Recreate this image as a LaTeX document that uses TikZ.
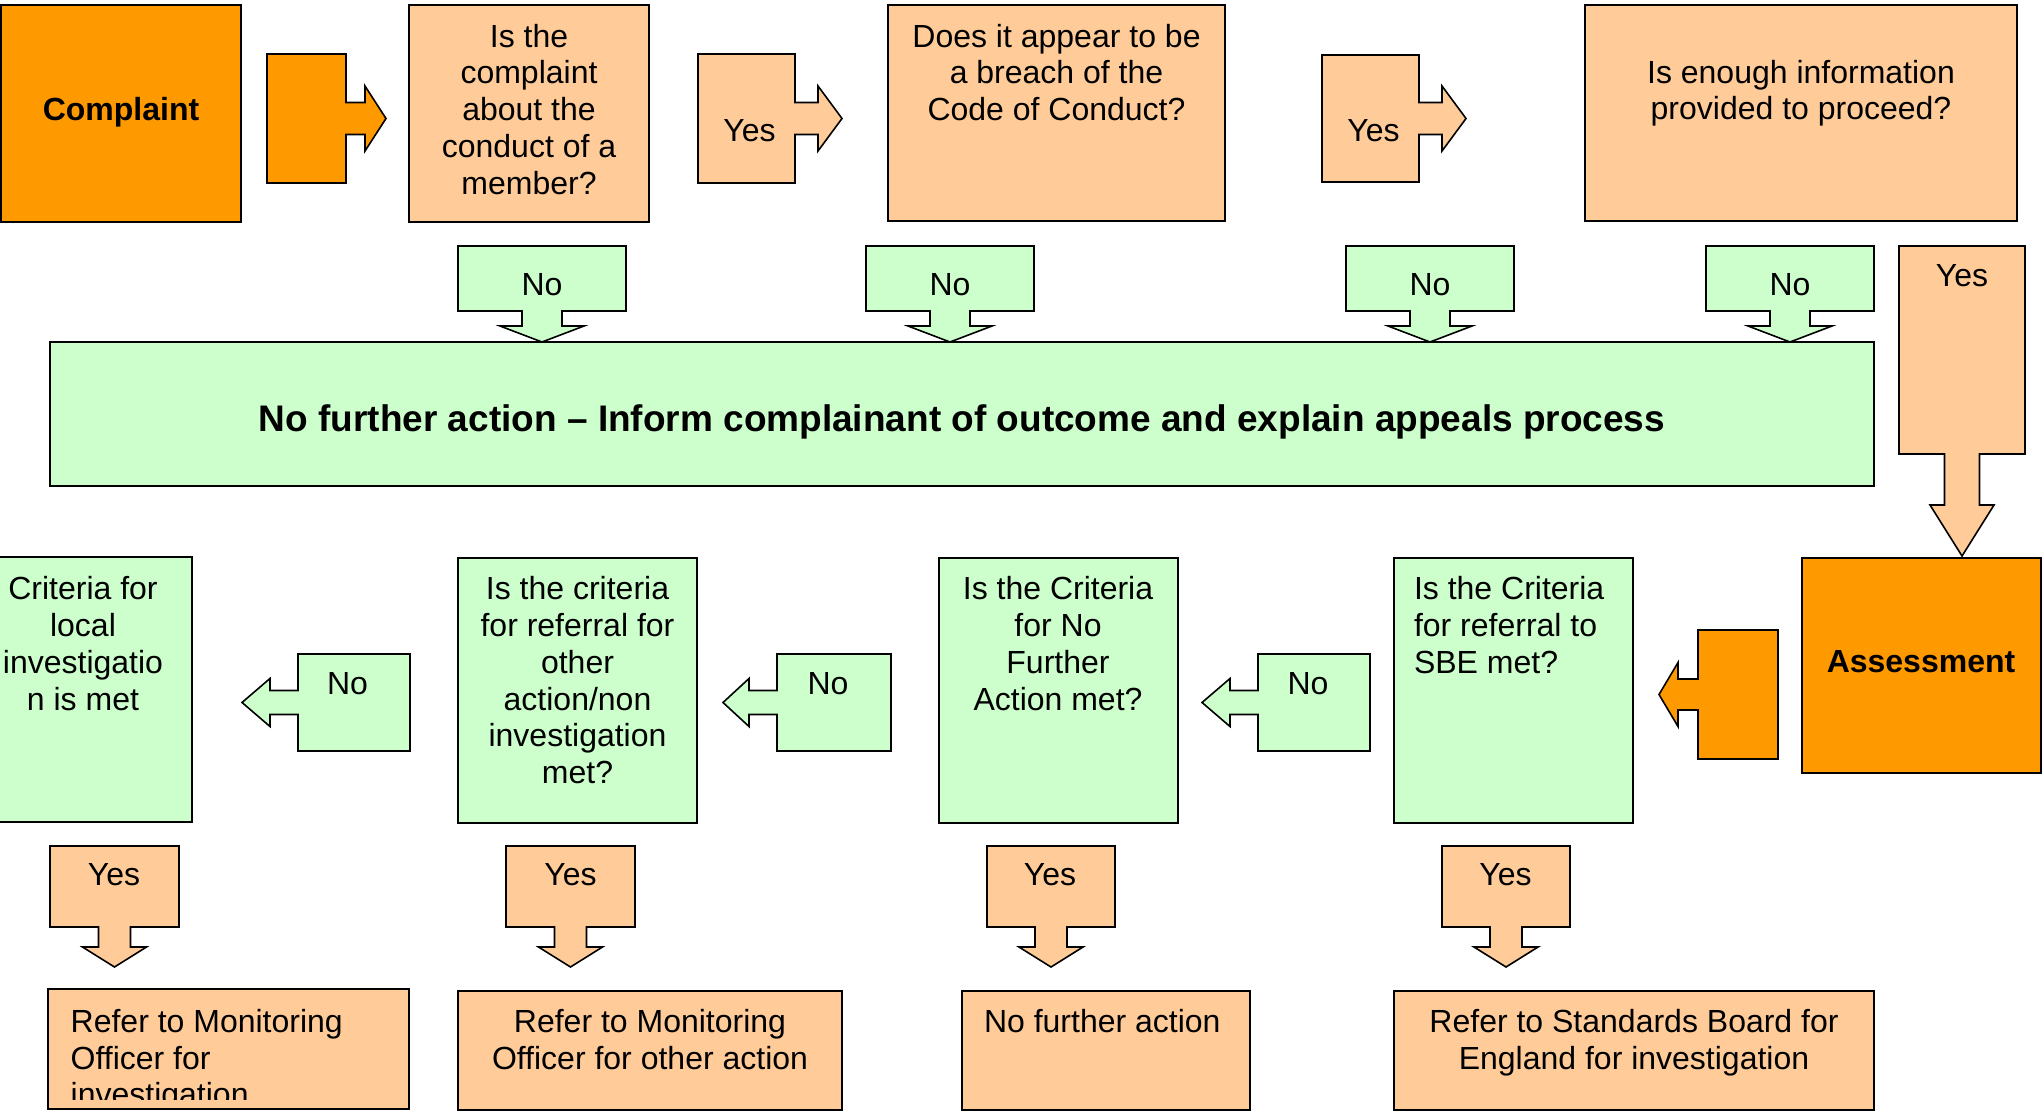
\documentclass[tikz,border=0pt]{standalone}
\usepackage{fontspec}
\setmainfont{Liberation Sans}
\definecolor{dkorange}{HTML}{FF9900}
\definecolor{ltorange}{HTML}{FFCC99}
\definecolor{ltgreen}{HTML}{CCFFCC}
% box: name, style, x1, y1, x2, y2
\newcommand\mkbox[6]{\node[#2, minimum width={(#5)-(#3)}, minimum height={(#6)-(#4)}, anchor=north west, inner sep=0pt, outer sep=0pt] (#1) at (#3,#4) {};}
% horizontal callout arrow: style, x shaft side, x far side, y1, y2, x head base, x tip, shaft half, head half
\newcommand\hcall[9]{\draw[#1] (#3,#4) -- (#2,#4) -- (#2,{(#4+#5)/2-#8}) -- (#6,{(#4+#5)/2-#8}) -- (#6,{(#4+#5)/2-#9}) -- (#7,{(#4+#5)/2}) -- (#6,{(#4+#5)/2+#9}) -- (#6,{(#4+#5)/2+#8}) -- (#2,{(#4+#5)/2+#8}) -- (#2,#5) -- (#3,#5) -- cycle;}
% downward callout arrow: style, x1, x2, y1, y2, y head base, y tip, shaft half, head half
\newcommand\dcall[9]{\draw[#1] (#2,#4) -- (#3,#4) -- (#3,#5) -- ({(#2+#3)/2+#8},#5) -- ({(#2+#3)/2+#8},#6) -- ({(#2+#3)/2+#9},#6) -- ({(#2+#3)/2},#7) -- ({(#2+#3)/2-#9},#6) -- ({(#2+#3)/2-#8},#6) -- ({(#2+#3)/2-#8},#5) -- (#2,#5) -- cycle;}
\begin{document}
\begin{tikzpicture}[x=1pt,y=-1pt,
  dko/.style={draw=black, line width=1.6pt, fill=dkorange, line join=miter},
  lto/.style={draw=black, line width=1.6pt, fill=ltorange, line join=miter},
  ltg/.style={draw=black, line width=1.6pt, fill=ltgreen, line join=miter},
  txt/.style={font=\fontsize{32}{36.8}\selectfont, inner sep=0pt, outer sep=0pt, align=center, anchor=north},
  ltxt/.style={txt, align=left, anchor=north west},
  btxt/.style={txt, font=\fontsize{32}{36.8}\selectfont\bfseries},
  bigtxt/.style={txt, font=\fontsize{37}{42}\selectfont\bfseries}]
\useasboundingbox (0,0) rectangle (2044,1112);

% ---- boxes ----
\mkbox{complaint}{dko}{1}{5}{241}{222}
\mkbox{q1}{lto}{409}{5}{649}{222}
\mkbox{q2}{lto}{888}{5}{1225}{221}
\mkbox{q3}{lto}{1585}{5}{2017}{221}
\mkbox{nfa}{ltg}{50}{342}{1874}{486}
\mkbox{assess}{dko}{1802}{558}{2041}{773}
\mkbox{sbe}{ltg}{1394}{558}{1633}{823}
\mkbox{nfaq}{ltg}{939}{558}{1178}{823}
\mkbox{other}{ltg}{458}{558}{697}{823}
\mkbox{local}{ltg}{-22}{557}{192}{822}
\mkbox{r1}{lto}{48}{989}{409}{1109}
\mkbox{r2}{lto}{458}{991}{842}{1110}
\mkbox{r3}{lto}{962}{991}{1250}{1110}
\mkbox{r4}{lto}{1394}{991}{1874}{1110}

% ---- callout arrows ----
\hcall{dko}{346}{267}{54}{183}{365}{386}{16}{32.5}
\hcall{lto}{795}{698}{54}{183}{818}{842}{16}{32.5}
\hcall{lto}{1419}{1322}{55}{182}{1442}{1466}{16}{32.5}
\dcall{ltg}{458}{626}{246}{311}{326}{342}{20}{42}
\dcall{ltg}{866}{1034}{246}{311}{326}{342}{20}{42}
\dcall{ltg}{1346}{1514}{246}{311}{326}{342}{20}{42}
\dcall{ltg}{1706}{1874}{246}{311}{326}{342}{20}{42}
\dcall{lto}{1899}{2025}{246}{454}{505}{556}{17.5}{32}
\hcall{dko}{1698}{1778}{630}{759}{1678}{1659}{15.5}{32}
\hcall{ltg}{298}{410}{654}{751}{270}{242}{12}{24}
\hcall{ltg}{777}{891}{654}{751}{749}{723}{12}{24}
\hcall{ltg}{1258}{1370}{654}{751}{1230}{1202}{12}{24}
\dcall{lto}{50}{179}{846}{927}{947}{967}{16}{32}
\dcall{lto}{506}{635}{846}{927}{947}{967}{16}{32}
\dcall{lto}{987}{1115}{846}{927}{947}{967}{16}{32}
\dcall{lto}{1442}{1570}{846}{927}{947}{967}{16}{32}

% ---- texts ----
\node[btxt] (tcomplaint) at (121,97) {Complaint};
\node[txt] (tq1) at (529,24) {Is the\\complaint\\about the\\conduct of a\\member?};
\node[txt] (yes1) at (749.5,119) {Yes};
\node[txt] (tq2) at (1056.5,24) {Does it appear to be\\a breach of the\\Code of Conduct?};
\node[txt] (yes2) at (1373.5,119) {Yes};
\node[txt] (tq3) at (1801,60) {Is enough information\\provided to proceed?};
\node[txt] (no1) at (542,273) {No};
\node[txt] (no2) at (950,273) {No};
\node[txt] (no3) at (1430,273) {No};
\node[txt] (no4) at (1790,273) {No};
\node[txt] (yes3) at (1962,264.5) {Yes};
\node[bigtxt] (tnfa) at (962,405) {No further action -- Inform complainant of outcome and explain appeals process};
\node[btxt] (tassess) at (1921,650.5) {Assessment};
\node[ltxt] (tsbe) at (1414,576.5) {Is the Criteria\\for referral to\\SBE met?};
\node[txt] (tnfaq) at (1058,576.5) {Is the Criteria\\for No\\Further\\Action met?};
\node[txt] (tother) at (577.5,576.5) {Is the criteria\\for referral for\\other\\action/non\\investigation\\met?};
\node[txt] (tlocal) at (83,576.5) {Criteria for\\local\\investigatio\\n is met};
\node[txt] (no5) at (347.5,672.5) {No};
\node[txt] (no6) at (828,672.5) {No};
\node[txt] (no7) at (1308,672.5) {No};
\node[txt] (yes4) at (114,863.5) {Yes};
\node[txt] (yes5) at (570.5,863.5) {Yes};
\node[txt] (yes6) at (1050,863.5) {Yes};
\node[txt] (yes7) at (1505.5,863.5) {Yes};
\begin{scope}
\clip (40,980) rectangle (420,1099);
\node[ltxt] (tr1) at (70.7,1009) {Refer to Monitoring\\Officer for\\investigation};
\end{scope}
\node[txt] (tr2) at (650,1009) {Refer to Monitoring\\Officer for other action};
\node[ltxt] (tr3) at (984,1009) {No further action};
\node[txt] (tr4) at (1634,1009) {Refer to Standards Board for\\England for investigation};
\end{tikzpicture}
\end{document}
